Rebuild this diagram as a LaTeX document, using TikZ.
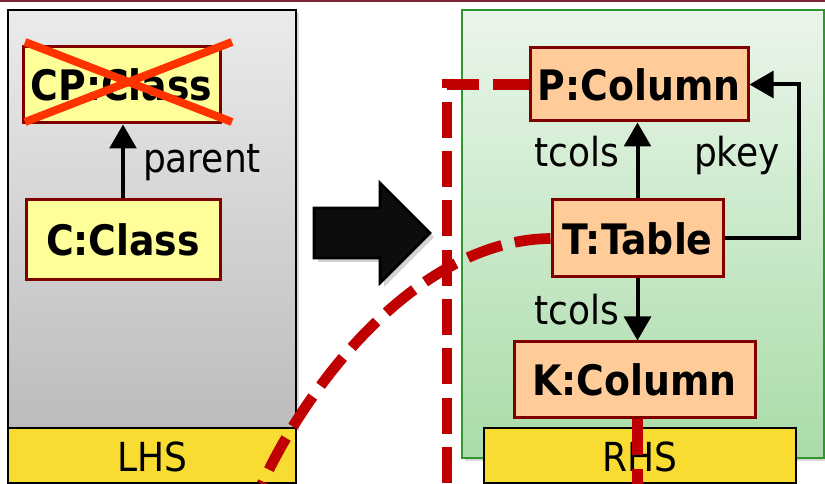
\documentclass[tikz,border=0pt]{standalone}
\usepackage{fontspec}
\usepackage{tikz}
\usetikzlibrary{calc, arrows.meta, positioning, shadows}
\newfontfamily\diafont{DejaVu Sans Condensed}
\definecolor{topbar}{HTML}{7B2234}
\definecolor{lhstop}{HTML}{EBEBEB}
\definecolor{lhsbottom}{HTML}{BCBCBC}
\definecolor{rhstop}{HTML}{EAF5EA}
\definecolor{rhsbottom}{HTML}{A9DCA9}
\definecolor{rhsborder}{HTML}{2E982E}
\definecolor{barcolor}{HTML}{F8DC32}
\definecolor{objborder}{HTML}{800000}
\definecolor{classfill}{HTML}{FFFF99}
\definecolor{colfill}{HTML}{FFCC99}
\definecolor{cutcolor}{HTML}{C00000}
\definecolor{crosscolor}{HTML}{FF3300}

\begin{document}
\begin{tikzpicture}[
    x=0.75pt, y=-0.75pt,
    >={Triangle[width=20pt, length=18pt]},
    font=\diafont,
    obj/.style={draw=objborder, fill=#1, line width=2.25pt, inner sep=0pt, font=\diafont\fontsize{31.5}{36}\selectfont\bfseries},
    lbl/.style={anchor=base, inner sep=0pt, font=\diafont\fontsize{30}{34}\selectfont},
    panel/.style={line width=1.2pt, drop shadow={opacity=0.3, shadow xshift=2pt, shadow yshift=-2pt}},
    sidebar/.style={draw=black, fill=barcolor, line width=1.5pt},
    link/.style={->, line width=3pt, black},
    cut/.style={cutcolor, line width=8pt, dash pattern=on 27pt off 10pt}
]
    \useasboundingbox (0,0) rectangle (825,484);

    % Top rule
    \fill[topbar] (0,0) rectangle (825,2.5);

    % LHS panel
    \shade[panel, draw=black, top color=lhstop, bottom color=lhsbottom] (8,10) rectangle (296,428);
    \draw[sidebar] (8,428) rectangle (296,483);
    \node[lbl] (lhs) at (152,472) {LHS};

    % RHS panel
    \shade[panel, draw=rhsborder, top color=rhstop, bottom color=rhsbottom] (462,10) rectangle (824,458);
    \draw[sidebar] (484,428) rectangle (796,483);
    \node[lbl] (rhs) at (640,472) {RHS};

    % Rule arrow
    \filldraw[black!95, draw=black, line width=2pt, drop shadow={opacity=0.35, shadow xshift=3pt, shadow yshift=-3pt}]
        (314,208) -- (380,208) -- (380,183) -- (430,233) -- (380,283) -- (380,258) -- (314,258) -- cycle;

    % LHS objects
    \node[obj=classfill, minimum width=147.75pt, minimum height=57pt] (cp) at (121.5,85) {CP:Class};
    \node[obj=classfill, minimum width=145.5pt, minimum height=60pt] (c) at (123,240) {C:Class};
    \draw[link] (c) -- (c.north |- cp.south);
    \node[lbl] (parent) at (202,173) {parent};

    % Deleted node
    \draw[crosscolor, line width=6pt] (25,42) -- (232,122);
    \draw[crosscolor, line width=6pt] (25,122) -- (232,42);

    % RHS objects
    \node[obj=colfill, minimum width=163.5pt, minimum height=54.75pt] (p) at (639,84.5) {P:Column};
    \node[obj=colfill, minimum width=128.25pt, minimum height=57.75pt] (t) at (637.5,238.5) {T:Table};
    \node[obj=colfill, minimum width=180.75pt, minimum height=57pt] (k) at (634.5,380) {K:Column};

    \draw[link] (t.north) -- (t.north |- p.south);
    \node[lbl] (tcolsup) at (577,167) {tcols};
    \draw[link] (t.south) -- (t.south |- k.north);
    \node[lbl] (tcolsdown) at (577,325) {tcols};
    \draw[link] (t.east) -- ++(74,0) |- (p.east);
    \node[lbl] (pkey) at (737,167) {pkey};

    % Cut lines
    \coordinate (pend) at (447,484);
    \coordinate (tend) at (262,484);
    \coordinate (kend) at (t.south |- pend);
    \draw[cut] (p.west) -| (pend);
    \draw[cut] (t.west) .. controls (420,240) and (310,380) .. (tend);
    \draw[cut] (k.south -| kend) -- (kend);

\end{tikzpicture}
\end{document}
